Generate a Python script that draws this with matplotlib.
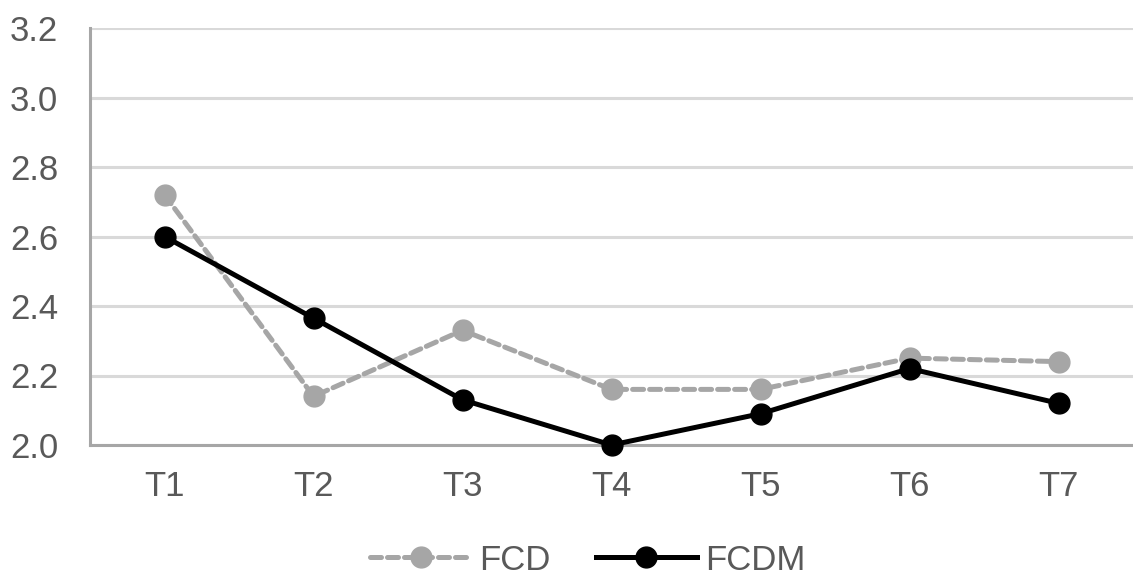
import matplotlib
matplotlib.use("Agg")
import matplotlib.pyplot as plt

categories = ["T1", "T2", "T3", "T4", "T5", "T6", "T7"]
fcd = [2.72, 2.14, 2.33, 2.16, 2.16, 2.25, 2.24]
fcdm = [2.60, 2.365, 2.13, 2.00, 2.09, 2.22, 2.12]
yticks = [2.0, 2.2, 2.4, 2.6, 2.8, 3.0, 3.2]

plt.rcParams['font.family'] = ['Liberation Sans', 'DejaVu Sans']

fig = plt.figure(figsize=(11.33, 5.77), dpi=100)
ax = fig.add_axes([90/1133, 1-445/577, 1-90/1133, (445-28)/577])

x = list(range(len(categories)))
ax.plot(x, fcd, color="#A6A6A6", linestyle=(0, (2.2, 1.2)), linewidth=3.6,
        marker="o", markersize=15, label="FCD", dash_capstyle="round", clip_on=False, zorder=3)
ax.plot(x, fcdm, color="#000000", linestyle="-", linewidth=3.6,
        marker="o", markersize=15, label="FCDM", clip_on=False, zorder=4)

ax.set_xlim(-0.5, len(categories) - 0.5)
ax.set_ylim(2.0, 3.2)
ax.set_yticks(yticks)
ax.set_yticklabels([f"{v:.1f}" for v in yticks])
ax.set_xticks(x)
ax.set_xticklabels(categories)
ax.tick_params(axis="both", length=0, labelsize=25, colors="#595959")
ax.tick_params(axis="y", pad=23)
ax.tick_params(axis="x", pad=18)
ax.grid(axis="y", color="#D9D9D9", linewidth=2.2)
ax.set_axisbelow(True)
for s in ["top", "right"]:
    ax.spines[s].set_visible(False)
ax.spines["left"].set_color("#A6A6A6")
ax.spines["left"].set_linewidth(2.2)
ax.spines["bottom"].set_color("#A6A6A6")
ax.spines["bottom"].set_linewidth(2.2)

leg = fig.legend(loc="center", bbox_to_anchor=(588/1133, 1-560/577), ncol=2,
                 frameon=False, fontsize=25, handlelength=2.9, columnspacing=1.3,
                 handletextpad=0.25, labelcolor="#595959")

fig.savefig("out.png", dpi=100)
